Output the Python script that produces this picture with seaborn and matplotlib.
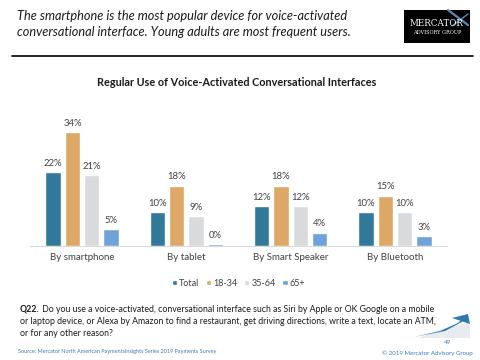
import matplotlib
matplotlib.use("Agg")
import matplotlib.pyplot as plt
import seaborn as sns
import pandas as pd
from matplotlib.patches import Rectangle, Polygon

categories = ["By smartphone", "By tablet", "By Smart Speaker", "By Bluetooth"]
series = ["Total", "18-34", "35-64", "65+"]
total = [22, 10, 12, 10]
age_18_34 = [34, 18, 18, 15]
age_35_64 = [21, 9, 12, 10]
age_65 = [5, 0.5, 4, 3]
colors = ["#31789A", "#DDA765", "#D9DADC", "#6FA3D8"]

title = "Regular Use of Voice-Activated Conversational Interfaces"
header = ("The smartphone is the most popular device for voice-activated\n"
          "conversational interface. Young adults are most frequent users.")
question_bold = "Q22."
question_lines = [" Do you use a voice-activated, conversational interface such as Siri by Apple or OK Google on a mobile",
                  "or laptop device, or Alexa by Amazon to find a restaurant, get driving directions, write a text, locate an ATM,",
                  "or for any other reason?"]
source = "Source: Mercator North American PaymentsInsights Series 2019 Payments Survey"
copyright_txt = "© 2019 Mercator Advisory Group"
page = "49"

rows = []
for s, vals in zip(series, [total, age_18_34, age_35_64, age_65]):
    for c, v in zip(categories, vals):
        rows.append({"cat": c, "series": s, "value": v})
df = pd.DataFrame(rows)

sns.set_theme(style="white")
plt.rcParams["font.family"] = ["Lato", "DejaVu Sans"]

fig = plt.figure(figsize=(4.8, 3.6), dpi=100)
ax = fig.add_axes([0.0625, 0.3167, 0.8688, 0.3733])

sns.barplot(data=df, x="cat", y="value", hue="series", order=categories,
            hue_order=series, palette=colors, width=0.74, gap=0.2,
            ax=ax, saturation=1, legend=True)
ax.set_ylim(0, 40)
ax.set_xlim(-0.5, 3.5)
for c in ax.containers:
    ax.bar_label(c, labels=[f"{v:.0f}%" for v in c.datavalues], padding=3,
                 fontsize=6.8, color="#404040")
for s in ["top", "right", "left"]:
    ax.spines[s].set_visible(False)
ax.spines["bottom"].set_color("#D9D9D9")
ax.spines["bottom"].set_linewidth(0.8)
ax.spines["bottom"].set_zorder(0)
ax.set_yticks([])
ax.set_xlabel("")
ax.set_ylabel("")
ax.tick_params(axis="x", length=0, labelsize=7, colors="#404040", pad=5)

leg = ax.legend(loc="center", bbox_to_anchor=(0.5, -0.277), ncol=4, frameon=False,
                fontsize=6.5, handlelength=0.6, handleheight=0.6, handletextpad=0.25,
                columnspacing=0.7, labelcolor="#404040")

fig.text(0.494, 1 - 83 / 360, title, ha="center", va="center", fontsize=7.8,
         fontweight="bold", color="#1a1a1a")

fig.text(0.035, 1 - 24 / 360, header, ha="left", va="center", fontsize=9.2,
         fontstyle="italic", color="#1a1a1a", linespacing=1.45)

# header rule
fig.add_artist(plt.Line2D([0.025, 0.985], [1 - 56 / 360] * 2, color="black", lw=1.2))

# logo
fig.add_artist(Rectangle((404 / 480, 1 - 43 / 360), 66 / 480, 33 / 360,
                         facecolor="black", edgecolor="none"))
fig.add_artist(plt.Line2D([448 / 480, 468 / 480], [1 - 10 / 360, 1 - 25 / 360],
                          color="#5b8bb5", lw=1.6))
fig.add_artist(plt.Line2D([452 / 480, 468 / 480], [1 - 26 / 360, 1 - 14 / 360],
                          color="#5b8bb5", lw=1.0))
fig.text(437 / 480, 1 - 24 / 360, "MERCATOR", ha="center", va="center", fontsize=6.3,
         color="white", family="DejaVu Serif")
fig.text(437 / 480, 1 - 33 / 360, "ADVISORY GROUP", ha="center", va="center", fontsize=3.6,
         color="white", family="DejaVu Serif")

# question text
qfs = 6.3
tb = fig.text(20 / 480, 1 - 309 / 360, question_bold, ha="left", va="center", fontsize=qfs,
              fontweight="bold", color="#1a1a1a")
fig.canvas.draw()
bb = tb.get_window_extent(renderer=fig.canvas.get_renderer())
x_after = bb.x1 / fig.bbox.width
fig.text(x_after, 1 - 309 / 360, question_lines[0], ha="left", va="center", fontsize=qfs,
         color="#1a1a1a")
fig.text(20 / 480, 1 - 321 / 360, question_lines[1], ha="left", va="center", fontsize=qfs,
         color="#1a1a1a")
fig.text(20 / 480, 1 - 333 / 360, question_lines[2], ha="left", va="center", fontsize=qfs,
         color="#1a1a1a")

fig.text(18 / 480, 1 - 351 / 360, source, ha="left", va="center", fontsize=4.0,
         color="#3a7cb8")
fig.text(473 / 480, 1 - 353 / 360, copyright_txt, ha="right", va="center", fontsize=4.4,
         color="#3a7cb8")
fig.text(447 / 480, 1 - 343 / 360, page, ha="center", va="center", fontsize=4.3,
         color="#3a7cb8")

# swoosh decoration
fig.add_artist(Polygon([(418 / 480, 1 - 338 / 360), (470 / 480, 1 - 338 / 360),
                        (470 / 480, 1 - 322 / 360), (440 / 480, 1 - 330 / 360)],
                       closed=True, facecolor="#E8ECF0", edgecolor="none"))
fig.add_artist(Polygon([(414 / 480, 1 - 337 / 360), (440 / 480, 1 - 331 / 360),
                        (458 / 480, 1 - 323 / 360), (468 / 480, 1 - 314 / 360),
                        (462 / 480, 1 - 322 / 360), (445 / 480, 1 - 331 / 360)],
                       closed=True, facecolor="#2f7aa8", edgecolor="none"))
fig.add_artist(Polygon([(452 / 480, 1 - 318 / 360), (468 / 480, 1 - 314 / 360),
                        (470 / 480, 1 - 324 / 360)],
                       closed=True, facecolor="#2f7aa8", edgecolor="none"))

fig.savefig("out.png", dpi=100)
